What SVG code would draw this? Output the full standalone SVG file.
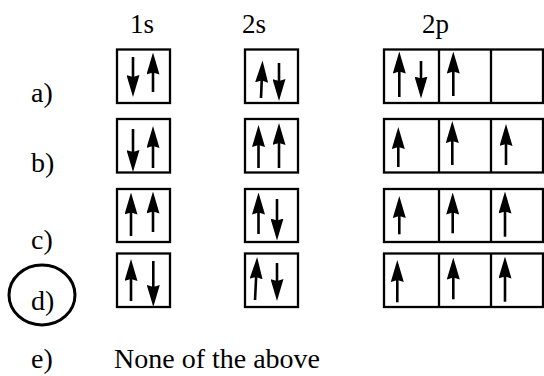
<svg xmlns="http://www.w3.org/2000/svg" width="544" height="376" viewBox="0 0 544 376">
<style>
text{font-family:"Liberation Serif","Times New Roman",serif;font-size:28px;fill:#000}
.hd{font-size:27px}
.box{fill:none;stroke:#000;stroke-width:2.3}
.e{stroke:#000;stroke-width:2.6;marker-end:url(#ah)}
</style>
<defs>
<marker id="ah" markerUnits="userSpaceOnUse" viewBox="0 0 22 13" markerWidth="22" markerHeight="13" refX="9" refY="6.5" orient="auto">
<path d="M0,0 L22,6.5 L0,13 L2,6.5 z" fill="#000"/>
</marker>
</defs>
<rect width="544" height="376" fill="#fff"/>
<g id="headers">
<text class="hd" x="130" y="33">1s</text>
<text class="hd" x="242" y="33">2s</text>
<text class="hd" x="422" y="33">2p</text>
</g>
<g id="labels">
<text x="31" y="102">a)</text>
<text x="31" y="172">b)</text>
<text x="31" y="249">c)</text>
<text x="31" y="310">d)</text>
<text x="31" y="368">e)</text>
<text x="114" y="368">None of the above</text>
<ellipse cx="42" cy="295" rx="33" ry="30" fill="none" stroke="#000" stroke-width="3"/>
</g>
<g id="row-a">
<rect class="box" x="117" y="49.5" width="53" height="53.5"/>
<rect class="box" x="245" y="49.5" width="53" height="53.5"/>
<rect class="box" x="384" y="49.5" width="159" height="53.5"/>
<line class="box" x1="439" y1="49.5" x2="439" y2="103"/>
<line class="box" x1="491" y1="49.5" x2="491" y2="103"/>
</g>
<g id="row-b">
<rect class="box" x="117" y="119" width="53" height="53.5"/>
<rect class="box" x="245" y="119" width="53" height="53.5"/>
<rect class="box" x="384" y="119" width="159" height="53.5"/>
<line class="box" x1="439" y1="119" x2="439" y2="172.5"/>
<line class="box" x1="491" y1="119" x2="491" y2="172.5"/>
</g>
<g id="row-c">
<rect class="box" x="117" y="189" width="53" height="53"/>
<rect class="box" x="245" y="189" width="53" height="53"/>
<rect class="box" x="384" y="189" width="159" height="53"/>
<line class="box" x1="439" y1="189" x2="439" y2="242"/>
<line class="box" x1="491" y1="189" x2="491" y2="242"/>
</g>
<g id="row-d">
<rect class="box" x="117" y="253.5" width="53" height="53.5"/>
<rect class="box" x="245" y="253.5" width="53" height="53.5"/>
<rect class="box" x="384" y="253.5" width="159" height="53.5"/>
<line class="box" x1="439" y1="253.5" x2="439" y2="307"/>
<line class="box" x1="491" y1="253.5" x2="491" y2="307"/>
</g>
<g id="connectors">
<!-- row a -->
<line class="e" x1="133" y1="57" x2="133" y2="84"/>
<line class="e" x1="153" y1="92" x2="153" y2="65.5"/>
<line class="e" x1="261" y1="98" x2="262" y2="73.5"/>
<line class="e" x1="279" y1="63" x2="279" y2="88"/>
<line class="e" x1="399.3" y1="97" x2="399.3" y2="64.5"/>
<line class="e" x1="421" y1="61" x2="421" y2="85.5"/>
<line class="e" x1="453.3" y1="96" x2="453.3" y2="64.5"/>
<!-- row b -->
<line class="e" x1="133" y1="129" x2="133" y2="159"/>
<line class="e" x1="153" y1="168" x2="153" y2="139"/>
<line class="e" x1="258.5" y1="168" x2="258.5" y2="138"/>
<line class="e" x1="279" y1="168" x2="279" y2="136"/>
<line class="e" x1="398.3" y1="167" x2="398.3" y2="140"/>
<line class="e" x1="452.3" y1="165" x2="452.3" y2="134"/>
<line class="e" x1="506" y1="165" x2="506" y2="137"/>
<!-- row c -->
<line class="e" x1="131" y1="236" x2="131" y2="205.5"/>
<line class="e" x1="153" y1="232" x2="153" y2="204.5"/>
<line class="e" x1="258.5" y1="234" x2="258.5" y2="205.5"/>
<line class="e" x1="277" y1="199" x2="277" y2="227.5"/>
<line class="e" x1="399.3" y1="234.3" x2="399.3" y2="209"/>
<line class="e" x1="452.7" y1="233.3" x2="452.7" y2="205.5"/>
<line class="e" x1="505" y1="236.7" x2="505" y2="204.5"/>
<!-- row d -->
<line class="e" x1="131" y1="301" x2="131" y2="272"/>
<line class="e" x1="153.3" y1="261" x2="153.3" y2="294"/>
<line class="e" x1="255" y1="300" x2="256.5" y2="270"/>
<line class="e" x1="277" y1="263" x2="277" y2="288"/>
<line class="e" x1="397.3" y1="302.3" x2="397.3" y2="273"/>
<line class="e" x1="453.3" y1="299.3" x2="453.3" y2="270.5"/>
<line class="e" x1="505" y1="301.7" x2="505" y2="269.5"/>
</g>
</svg>
